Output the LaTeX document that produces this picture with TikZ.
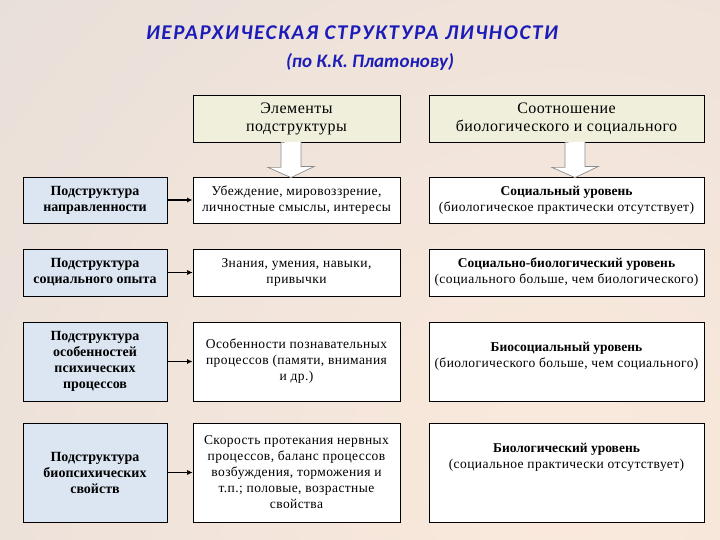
\documentclass[tikz,border=0pt]{standalone}
\usepackage{fontspec}
\setmainfont{Liberation Serif}[LetterSpace=3, BoldFeatures={LetterSpace=0}]
\newfontfamily\titlefont{Carlito}
\usetikzlibrary{positioning,arrows.meta}
\definecolor{bgin}{HTML}{FBE9DC}
\definecolor{bgout}{HTML}{D6D6D6}
\definecolor{titleblue}{RGB}{28,28,185}
\definecolor{headfill}{HTML}{EFEFDC}
\definecolor{subfill}{HTML}{DCE6F2}
\definecolor{arrowgray}{HTML}{8C8C8C}
\begin{document}
\begin{tikzpicture}[x=1pt, y=-1pt, line join=miter,
    title/.style={anchor=base, text=titleblue, inner sep=0pt,
      font=\titlefont\bfseries\itshape\fontsize{19}{24}\selectfont},
    box/.style={draw=black, line width=0.8pt, align=center, inner sep=2pt},
    head/.style={box, fill=headfill, minimum width=207pt, minimum height=47pt,
      font=\fontsize{16}{18}\selectfont},
    sub/.style={box, fill=subfill, minimum width=144pt,
      font=\fontsize{14}{16}\selectfont\bfseries},
    elem/.style={box, fill=white, minimum width=207pt,
      font=\fontsize{13.5}{16}\selectfont},
    level/.style={box, fill=white, minimum width=275pt,
      font=\fontsize{13.5}{16}\selectfont},
    leveltext/.style={align=center, inner sep=0pt,
      font=\fontsize{13.5}{16}\selectfont},
    link/.style={-{Latex[length=5.5pt,width=5pt]}, line width=0.6pt},
    blockarrow/.style={draw=arrowgray, fill=white, line width=0.7pt}]
  \useasboundingbox (0,0) rectangle (720,540);
  \begin{scope}
    \clip (0,0) rectangle (720,540);
    \shade[inner color=bgin, outer color=bgout] (560,480) circle (1450);
  \end{scope}
  % title
  \node[title, font=\titlefont\bfseries\itshape\fontsize{21}{24}\selectfont\addfontfeature{LetterSpace=8}]
    (title1) at (352,40) {ИЕРАРХИЧЕСКАЯ СТРУКТУРА ЛИЧНОСТИ};
  \node[title] (title2) at (370,68) {(по К.К. Платонову)};
  % column headers
  \node[head] (h1) at (296.5,118.5) {Элементы\\ подструктуры};
  \node[head, minimum width=275pt] (h2) at (566.5,118.5)
    {Соотношение\\ биологического и социального};
  % row 1
  \node[sub, minimum height=46pt] (s1) at (95,200) {Подструктура\\ направленности};
  \node[elem, minimum height=46pt] (e1) at (296.5,200)
    {Убеждение, мировоззрение,\\ личностные смыслы, интересы};
  \node[level, minimum height=46pt] (l1) at (566.5,200)
    {\textbf{Социальный уровень}\\ (биологическое практически отсутствует)};
  % row 2
  \node[sub, minimum height=47pt] (s2) at (95,272.5) {Подструктура\\ социального опыта};
  \node[elem, minimum height=47pt] (e2) at (296.5,272.5)
    {Знания, умения, навыки,\\ привычки};
  \node[level, minimum height=47pt] (l2) at (566.5,272.5)
    {\textbf{Социально-биологический уровень}\\ (социального больше, чем биологического)};
  % row 3
  \node[sub, minimum height=79pt] (s3) at (95,361.5)
    {Подструктура\\ особенностей\\ психических\\ процессов};
  \node[elem, minimum height=79pt] (e3) at (296.5,361.5)
    {Особенности познавательных\\ процессов (памяти, внимания\\ и др.)};
  \node[level, minimum height=79pt] (l3) at (566.5,361.5) {};
  \node[leveltext, below=20pt of l3.north] (l3t)
    {\textbf{Биосоциальный уровень}\\ (биологического больше, чем социального)};
  % row 4
  \node[sub, minimum height=99pt] (s4) at (95,472.5)
    {Подструктура\\ биопсихических\\ свойств};
  \node[elem, minimum height=99pt] (e4) at (296.5,472.5)
    {Скорость протекания нервных\\ процессов, баланс процессов\\ возбуждения, торможения и\\ т.п.; половые, возрастные\\ свойства};
  \node[level, minimum height=99pt] (l4) at (566.5,472.5) {};
  \node[leveltext, below=20pt of l4.north] (l4t)
    {\textbf{Биологический уровень}\\ (социальное практически отсутствует)};
  % connectors
  \draw[blockarrow] ([xshift=-15.5pt]h1.south) -- ++(0,25) -- ++(-13,0)
    -- ([xshift=-5.5pt,yshift=-1pt]e1.north) -- ++(23,-11) -- ++(-13,0) -- ++(0,-25);
  \draw[blockarrow] ([xshift=-1.5pt]h2.south) -- ++(0,25) -- ++(-13,0)
    -- ([xshift=8.5pt,yshift=-1pt]l1.north) -- ++(23,-11) -- ++(-13,0) -- ++(0,-25);
  \draw[link, line width=1.1pt] (s1) -- (e1);
  \draw[link] (s2) -- (e2);
  \draw[link, line width=1.1pt] (s3) -- (e3);
  \draw[link] (s4) -- (e4);
\end{tikzpicture}
\end{document}
